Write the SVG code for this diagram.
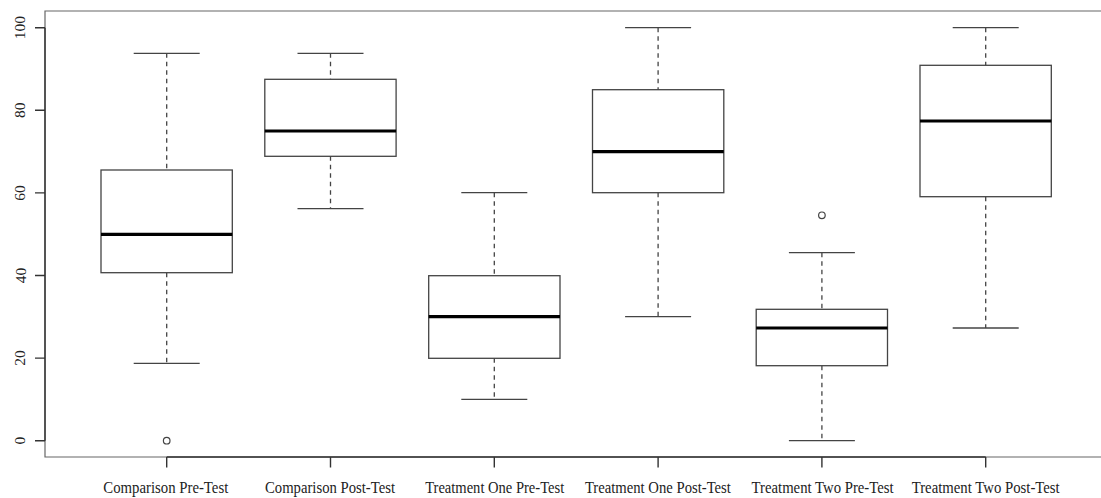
<svg xmlns="http://www.w3.org/2000/svg" width="1101" height="498" viewBox="0 0 1101 498">
<style>
.frame{fill:none;stroke:#666;stroke-width:1.2}
.axis{stroke:#333;stroke-width:1.4;fill:none}
.box{fill:none;stroke:#444;stroke-width:1.3}
.med{stroke:#000;stroke-width:3.2}
.cap{stroke:#444;stroke-width:1.3}
.wh{stroke:#444;stroke-width:1.3;stroke-dasharray:4.5 4}
.out{fill:none;stroke:#444;stroke-width:1.2}
.lab{font-family:"Liberation Serif","Times New Roman",serif;font-size:16.5px;fill:#222;text-anchor:middle}
.ylab{font-family:"Liberation Serif","Times New Roman",serif;font-size:15.5px;fill:#222;text-anchor:middle}
</style>
<rect width="1101" height="498" fill="#fff"/>
<g id="axes">
<path class="frame" d="M1110,11 H45 V457 H1110"/>
<path class="axis" d="M45,27.7 V440.7 M35,27.7 H45 M35,110.3 H45 M35,192.9 H45 M35,275.5 H45 M35,358.1 H45 M35,440.7 H45"/>
<path class="axis" d="M166.7,457 H985.7 M166.7,457 V467.5 M330.5,457 V467.5 M494.3,457 V467.5 M658.1,457 V467.5 M821.9,457 V467.5 M985.7,457 V467.5"/>
<text class="ylab" x="25.5" y="27.7" transform="rotate(-90 25.5 27.7)">100</text>
<text class="ylab" x="25.5" y="110.3" transform="rotate(-90 25.5 110.3)">80</text>
<text class="ylab" x="25.5" y="192.9" transform="rotate(-90 25.5 192.9)">60</text>
<text class="ylab" x="25.5" y="275.5" transform="rotate(-90 25.5 275.5)">40</text>
<text class="ylab" x="25.5" y="358.1" transform="rotate(-90 25.5 358.1)">20</text>
<text class="ylab" x="25.5" y="440.7" transform="rotate(-90 25.5 440.7)">0</text>
<text class="lab" x="165.8" y="492.7" textLength="125" lengthAdjust="spacingAndGlyphs">Comparison Pre-Test</text>
<text class="lab" x="330" y="492.7" textLength="130" lengthAdjust="spacingAndGlyphs">Comparison Post-Test</text>
<text class="lab" x="494.7" y="492.7" textLength="139" lengthAdjust="spacingAndGlyphs">Treatment One Pre-Test</text>
<text class="lab" x="657.9" y="492.7" textLength="146" lengthAdjust="spacingAndGlyphs">Treatment One Post-Test</text>
<text class="lab" x="822.6" y="492.7" textLength="142" lengthAdjust="spacingAndGlyphs">Treatment Two Pre-Test</text>
<text class="lab" x="985.7" y="492.7" textLength="148" lengthAdjust="spacingAndGlyphs">Treatment Two Post-Test</text>
</g>
<g id="box1">
<line class="wh" x1="166.7" y1="53.3" x2="166.7" y2="170"/>
<line class="wh" x1="166.7" y1="272.7" x2="166.7" y2="363.3"/>
<line class="cap" x1="133.7" y1="53.3" x2="199.7" y2="53.3"/>
<line class="cap" x1="133.7" y1="363.3" x2="199.7" y2="363.3"/>
<rect class="box" x="101" y="170" width="131.3" height="102.7"/>
<line class="med" x1="101" y1="234.3" x2="232.3" y2="234.3"/>
<circle class="out" cx="166.7" cy="440.7" r="3.3"/>
</g>
<g id="box2">
<line class="wh" x1="330.5" y1="53.3" x2="330.5" y2="79.3"/>
<line class="wh" x1="330.5" y1="156.3" x2="330.5" y2="208.7"/>
<line class="cap" x1="297.5" y1="53.3" x2="363.5" y2="53.3"/>
<line class="cap" x1="297.5" y1="208.7" x2="363.5" y2="208.7"/>
<rect class="box" x="264.8" y="79.3" width="131.3" height="77"/>
<line class="med" x1="264.8" y1="131" x2="396.1" y2="131"/>
</g>
<g id="box3">
<line class="wh" x1="494.3" y1="192.7" x2="494.3" y2="275.7"/>
<line class="wh" x1="494.3" y1="358.3" x2="494.3" y2="399.3"/>
<line class="cap" x1="461.3" y1="192.7" x2="527.3" y2="192.7"/>
<line class="cap" x1="461.3" y1="399.3" x2="527.3" y2="399.3"/>
<rect class="box" x="428.7" y="275.7" width="131.3" height="82.6"/>
<line class="med" x1="428.7" y1="316.7" x2="560" y2="316.7"/>
</g>
<g id="box4">
<line class="wh" x1="658.1" y1="27.7" x2="658.1" y2="89.7"/>
<line class="wh" x1="658.1" y1="192.7" x2="658.1" y2="316.7"/>
<line class="cap" x1="625.1" y1="27.7" x2="691.1" y2="27.7"/>
<line class="cap" x1="625.1" y1="316.7" x2="691.1" y2="316.7"/>
<rect class="box" x="592.5" y="89.7" width="131.3" height="103"/>
<line class="med" x1="592.5" y1="151.7" x2="723.8" y2="151.7"/>
</g>
<g id="box5">
<line class="wh" x1="821.9" y1="252.7" x2="821.9" y2="309.3"/>
<line class="wh" x1="821.9" y1="365.7" x2="821.9" y2="440.7"/>
<line class="cap" x1="788.9" y1="252.7" x2="854.9" y2="252.7"/>
<line class="cap" x1="788.9" y1="440.7" x2="854.9" y2="440.7"/>
<rect class="box" x="756.2" y="309.3" width="131.3" height="56.4"/>
<line class="med" x1="756.2" y1="328" x2="887.5" y2="328"/>
<circle class="out" cx="821.9" cy="215.3" r="3.3"/>
</g>
<g id="box6">
<line class="wh" x1="985.7" y1="27.7" x2="985.7" y2="65.3"/>
<line class="wh" x1="985.7" y1="196.7" x2="985.7" y2="328"/>
<line class="cap" x1="952.7" y1="27.7" x2="1018.7" y2="27.7"/>
<line class="cap" x1="952.7" y1="328" x2="1018.7" y2="328"/>
<rect class="box" x="920" y="65.3" width="131.3" height="131.4"/>
<line class="med" x1="920" y1="121" x2="1051.3" y2="121"/>
</g>
</svg>
